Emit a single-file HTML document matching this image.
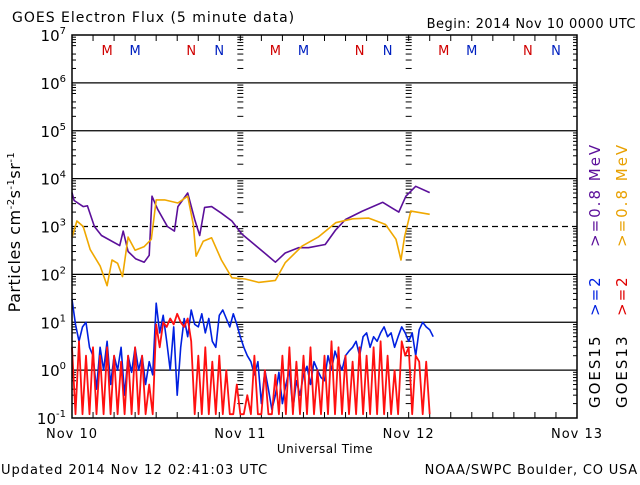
<!DOCTYPE html>
<html><head><meta charset="utf-8"><style>
body{margin:0;background:#fff;}
svg text{font-family:"DejaVu Sans","Liberation Sans",sans-serif;}
</style></head><body>
<svg id="chart" width="640" height="480" xmlns="http://www.w3.org/2000/svg">
<rect width="640" height="480" fill="#fff"/>
<text x="12" y="22" font-size="14" letter-spacing="1">GOES Electron Flux (5 minute data)</text>
<text x="636" y="28" font-size="13" text-anchor="end" letter-spacing="0.5">Begin: 2014 Nov 10 0000 UTC</text>
<text x="325" y="453" font-size="12" text-anchor="middle" letter-spacing="0.5">Universal Time</text>
<text x="1" y="474" font-size="13" letter-spacing="1">Updated 2014 Nov 12 02:41:03 UTC</text>
<text x="638" y="474" font-size="13" text-anchor="end" letter-spacing="0.8">NOAA/SWPC Boulder, CO USA</text>
<text transform="translate(20,232) rotate(-90)" font-size="16" text-anchor="middle" letter-spacing="0.5">Particles cm<tspan font-size="10" dy="-6">-2</tspan><tspan dy="6">s</tspan><tspan font-size="10" dy="-6">-1</tspan><tspan dy="6">sr</tspan><tspan font-size="10" dy="-6">-1</tspan></text>
<g font-size="15" letter-spacing="2">
<text transform="translate(600,247) rotate(-90)" fill="#5b0f9a">&gt;=0.8 MeV</text>
<text transform="translate(627,247) rotate(-90)" fill="#e8a000">&gt;=0.8 MeV</text>
<text transform="translate(600,316) rotate(-90)" fill="#0020e0">&gt;=2</text>
<text transform="translate(627,316) rotate(-90)" fill="#e00000">&gt;=2</text>
<text transform="translate(600,408) rotate(-90)" fill="#000">GOES15</text>
<text transform="translate(627,408) rotate(-90)" fill="#000">GOES13</text>
</g>
<g id="grid"></g>
<g id="series"></g>
<rect x="72" y="35" width="505" height="383" fill="none" stroke="#000" stroke-width="1.5"/>
</svg>
<script>
const hoursP=[0,0.3,1.6,2.2,3.2,4.2,6.8,7.3,8,9.1,10.3,11,11.4,12.2,13.6,14.6,15.1,16.5,17.5,18.2,18.9,19.9,21.3,22.8,24.2,26,28,29,30.4,32.3,33.7,36.1,37.6,39,41.4,44.3,45.7,46.6,47.6,49,51];
const g15Low=[5100,3500,2600,2700,1000,650,400,800,300,210,180,250,4300,2300,1000,800,2600,5000,1400,650,2500,2600,1900,1300,700,420,240,180,280,360,360,420,850,1400,2100,3200,2400,2000,4300,6900,5100];
const hoursO=[0,0.7,1.6,2.6,4,5,5.7,6.5,7.2,8,9,10.3,11.3,12,13.2,15.1,16.5,17.3,17.7,18.7,19.9,21.3,22.8,24.7,26.6,29,30.4,32.8,35.1,37.6,40,42.3,44.7,46.2,46.9,47.4,48.3,51];
const g13Low=[590,1300,1000,330,150,58,200,170,90,600,320,380,540,3600,3600,3100,4300,1100,240,490,580,200,85,80,68,75,175,390,600,1200,1450,1500,1100,540,200,600,2100,1800];
const hoursHi=[];for(let i=0;i<=103;i++)hoursHi.push(i*0.5);
const g15High=[30,9,4,8,10,3,2,0.4,3,1,4,0.5,2,1,3,0.3,2,0.9,3,1,2,0.5,1.5,0.8,25,6,14,4,1,8,0.3,3,12,5,18,9,8,15,6,12,4,3,14,18,12,8,15,9,5,3,2,1.5,0.8,1.5,0.2,1,0.4,0.15,0.3,0.9,0.2,0.5,1,0.15,0.6,0.3,0.8,1.2,0.5,1.5,1,0.7,0.6,2,1,2.5,1.5,1,2,2.5,3,4,2,5,6,3,5,4,6,8,5,6,3,5,8,6,4,6,2,7,10,8,7,5];
const g13High=[3,0.12,4,0.12,2,0.12,3,0.12,2,0.12,3,0.12,2,0.12,1.5,0.12,2,0.12,3,0.12,2,0.12,0.5,0.12,9,3,10,8,12,9,15,10,8,12,4,0.12,2,0.12,3,0.12,1.5,0.12,2,0.12,1,0.12,0.12,0.5,0.12,0.12,0.3,0.12,2,0.12,0.12,1,0.12,0.12,0.8,0.12,2,0.12,3,0.12,1.5,0.12,2,0.12,3,0.12,1,0.12,2,0.12,4,0.12,3,0.12,2,0.12,1.5,0.12,3,0.12,2,0.12,3,0.12,4,0.12,2,0.12,1,0.12,4,2,3,0.12,2,1.5,0.12,1.5,0.12];
const yExps=[-1,0,1,2,3,4,5,6,7];
const dayLabels=["Nov 10","Nov 11","Nov 12","Nov 13"];
const markerLetters=["M","M","N","N"];
const markerHours=[5,9,17,21];

const NS="http://www.w3.org/2000/svg";
const X0=72,X1=577,Y0=418,Y1=35;
const xs=h=>X0+h*(X1-X0)/72;
const ys=v=>Y0-(Math.log10(v)+1)*(Y0-Y1)/8;
function mk(tag,attrs,parent){const e=document.createElementNS(NS,tag);for(const k in attrs)e.setAttribute(k,attrs[k]);parent.appendChild(e);return e;}
const grid=document.getElementById('grid'),series=document.getElementById('series');

yExps.forEach(e=>{
  const y=ys(Math.pow(10,e));
  if(e>-1&&e<7){const l=mk('line',{x1:X0,x2:X1,y1:y,y2:y,stroke:'#000','stroke-width':1.2,'stroke-dasharray':e===3?'6,4':'none'},grid);
  
  }
  const t=mk('text',{x:66,y:y+6,'font-size':15,'text-anchor':'end'},grid);
  
  
  t.innerHTML='10<tspan font-size="10" dy="-7">'+e+'</tspan>';
  if(e<7){for(let m=2;m<=9;m++){const ym=ys(m*Math.pow(10,e));
    [X0,xs(24),xs(48)].forEach((xx,i)=>{const w=i===0?(m===5?0:4):3;
      if(w)mk('line',{x1:i===0?xx:xx-w,x2:xx+w,y1:ym,y2:ym,stroke:'#000','stroke-width':1},grid);});
    mk('line',{x1:X1-4,x2:X1,y1:ym,y2:ym,stroke:'#000','stroke-width':1},grid);}}
});
for(let h=3;h<72;h+=3){const x=xs(h);mk('line',{x1:x,x2:x,y1:Y0,y2:Y0-6,stroke:'#000'},grid);mk('line',{x1:x,x2:x,y1:Y1,y2:Y1+6,stroke:'#000'},grid);}
dayLabels.forEach((d,i)=>{const t=mk('text',{x:xs(i*24),y:438,'font-size':13,'text-anchor':'middle','letter-spacing':1},grid);
  
  
  t.textContent=d;});
for(let d=0;d<3;d++)markerLetters.forEach((L,i)=>{const t=mk('text',{x:xs(d*24+markerHours[i]),y:55,'font-size':13,'text-anchor':'middle',fill:i%2?'#0020c0':'#d00000'},grid);
  
  
  t.textContent=L;});

function line(hrs,vals,color,name,w){const pts=hrs.map((h,i)=>xs(h).toFixed(1)+','+ys(Math.max(vals[i],0.1)).toFixed(1)).join(' ');
  const p=mk('polyline',{points:pts,fill:'none',stroke:color,'stroke-width':w,'stroke-linejoin':'round'},series);
  
  }
line(hoursHi.slice(0,g15High.length),g15High,'#0020e0','series-goes15-2mev',1.6);
line(hoursHi.slice(0,g13High.length),g13High,'#ff1010','series-goes13-2mev',1.8);
line(hoursP,g15Low,'#5b0f9a','series-goes15-08mev',1.6);
line(hoursO,g13Low,'#f0a800','series-goes13-08mev',1.6);
</script>
</body></html>
